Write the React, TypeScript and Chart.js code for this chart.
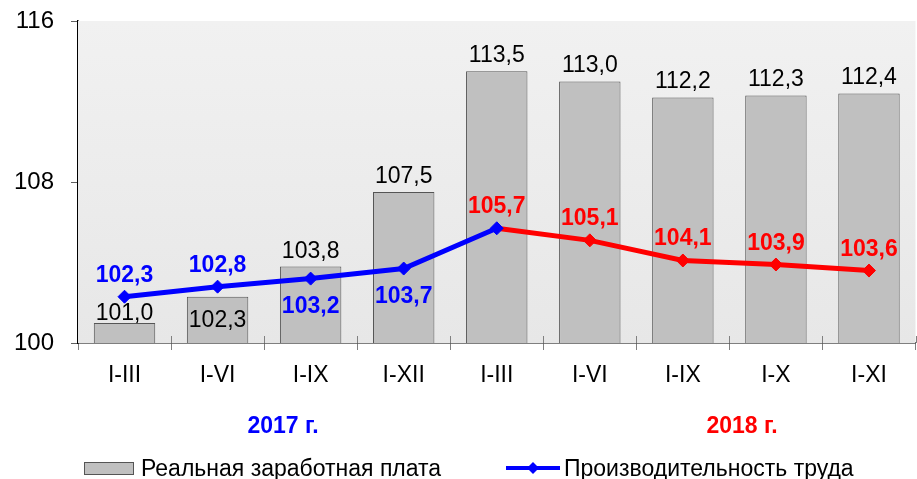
import React, { useEffect, useRef } from 'react';
import { Chart, registerables } from 'chart.js';

Chart.register(...registerables);

const categories = ['I-III', 'I-VI', 'I-IX', 'I-XII', 'I-III', 'I-VI', 'I-IX', 'I-X', 'I-XI'];
const wageValues = [101.0, 102.3, 103.8, 107.5, 113.5, 113.0, 112.2, 112.3, 112.4];
const productivityValues = [102.3, 102.8, 103.2, 103.7, 105.7, 105.1, 104.1, 103.9, 103.6];
const yTicks = [100, 108, 116];
const yearLabels = ['2017 г.', '2018 г.'];
const seriesNames = ['Реальная заработная плата', 'Производительность труда'];

// style / placement helpers (not data)
const barLabelDy = [-3, 30, -9, -9, -9, -9, -9, -9, -9];
const lineLabelBelow = [false, false, true, true, false, false, false, false, false];
const FIRST_2018 = 4;

const BLUE = '#0000ff';
const RED = '#ff0000';
const FONT = "'Liberation Sans', Arial, sans-serif";

const fmt = (v: number) => v.toFixed(1).replace('.', ',');

const drawPlugin = {
  id: 'customDraw',
  beforeDatasetsDraw(chart: any) {
    const { ctx, chartArea } = chart;
    const g = ctx.createLinearGradient(0, chartArea.top, 0, chartArea.bottom);
    g.addColorStop(0, '#f1f1f1');
    g.addColorStop(1, '#e7e7e7');
    ctx.save();
    ctx.fillStyle = g;
    ctx.fillRect(chartArea.left, chartArea.top, chartArea.right - chartArea.left, chartArea.bottom - chartArea.top);
    ctx.restore();
  },
  afterDraw(chart: any) {
    const { ctx, chartArea } = chart;
    ctx.save();
    // inner half of x ticks
    ctx.strokeStyle = '#808080';
    ctx.lineWidth = 1;
    const n = categories.length;
    const w = (chartArea.right - chartArea.left) / n;
    for (let i = 1; i <= n; i++) {
      const x = Math.round(chartArea.left + i * w) + 0.5;
      ctx.beginPath();
      ctx.moveTo(x, chartArea.bottom - 7);
      ctx.lineTo(x, chartArea.bottom);
      ctx.stroke();
    }
    // bar labels
    const barMeta = chart.getDatasetMeta(0);
    ctx.font = `23px ${FONT}`;
    ctx.fillStyle = '#000';
    ctx.textAlign = 'center';
    ctx.textBaseline = 'alphabetic';
    barMeta.data.forEach((el: any, i: number) => {
      ctx.fillText(fmt(wageValues[i]), el.x, el.y + barLabelDy[i]);
    });
    // line labels
    const lineMeta = chart.getDatasetMeta(1);
    ctx.font = `bold 23px ${FONT}`;
    lineMeta.data.forEach((el: any, i: number) => {
      ctx.fillStyle = i < FIRST_2018 ? BLUE : RED;
      const y = lineLabelBelow[i] ? el.y + 34 : el.y - 15;
      ctx.fillText(fmt(productivityValues[i]), el.x, y);
    });
    // year labels
    ctx.fillStyle = BLUE;
    ctx.fillText(yearLabels[0], 283, 433);
    ctx.fillStyle = RED;
    ctx.fillText(yearLabels[1], 742, 433);
    // legend
    ctx.fillStyle = '#c0c0c0';
    ctx.fillRect(84, 462, 49, 12);
    ctx.strokeStyle = '#555';
    ctx.lineWidth = 1;
    ctx.strokeRect(84.5, 462.5, 49, 12);
    ctx.font = `23px ${FONT}`;
    ctx.fillStyle = '#000';
    ctx.textAlign = 'left';
    ctx.fillText(seriesNames[0], 141, 476);
    ctx.strokeStyle = BLUE;
    ctx.lineWidth = 4;
    ctx.beginPath();
    ctx.moveTo(506, 468);
    ctx.lineTo(560, 468);
    ctx.stroke();
    ctx.fillStyle = BLUE;
    ctx.beginPath();
    ctx.moveTo(533, 462);
    ctx.lineTo(539, 468);
    ctx.lineTo(533, 474);
    ctx.lineTo(527, 468);
    ctx.closePath();
    ctx.fill();
    ctx.fillStyle = '#000';
    ctx.fillText(seriesNames[1], 564, 476);
    ctx.restore();
  },
};

export default function App() {
  const ref = useRef<HTMLCanvasElement>(null);
  useEffect(() => {
    if (!ref.current) return;
    const pointColors = productivityValues.map((_, i) => (i <= FIRST_2018 ? BLUE : RED));
    const chart = new Chart(ref.current, {
      type: 'bar',
      data: {
        labels: categories,
        datasets: [
          {
            type: 'bar',
            label: seriesNames[0],
            data: wageValues,
            backgroundColor: '#c0c0c0',
            borderColor: '#555555',
            borderWidth: 1,
            barPercentage: 0.66,
            categoryPercentage: 1,
            order: 1,
          },
          {
            type: 'line',
            label: seriesNames[1],
            data: productivityValues,
            borderColor: BLUE,
            borderWidth: 5,
            pointStyle: 'rectRot',
            pointRadius: 6.5,
            pointBorderWidth: 1,
            pointBackgroundColor: pointColors,
            pointBorderColor: pointColors,
            segment: {
              borderColor: (c: any) => (c.p0DataIndex < FIRST_2018 ? BLUE : RED),
            },
            tension: 0,
            order: 0,
          } as any,
        ],
      },
      options: {
        animation: false,
        responsive: false,
        devicePixelRatio: 1,
        layout: { padding: { top: 21, left: 0, right: 0, bottom: 76 } },
        plugins: { legend: { display: false }, tooltip: { enabled: false } },
        scales: {
          x: {
            offset: true,
            grid: { offset: true, drawOnChartArea: false, drawTicks: true, tickLength: 7, color: '#808080' },
            border: { display: true, color: '#000', width: 1.5 },
            ticks: { font: { size: 23, family: FONT }, color: '#000', padding: 12, maxRotation: 0, autoSkip: false },
            afterFit: (s: any) => { s.height = 60; s.paddingLeft = 0; s.paddingRight = 0; },
          },
          y: {
            min: 100,
            max: 116,
            afterBuildTicks: (s: any) => { s.ticks = yTicks.map((v) => ({ value: v })); },
            grid: { drawOnChartArea: false, tickLength: 7, color: '#606060' },
            border: { display: true, color: '#000', width: 1.5 },
            ticks: { font: { size: 24, family: FONT }, color: '#000', padding: 17 },
            afterFit: (s: any) => { s.width = 78; s.paddingTop = 0; s.paddingBottom = 0; },
          },
        },
      },
      plugins: [drawPlugin],
    });
    return () => chart.destroy();
  }, []);
  return (
    <div style={{ position: 'fixed', left: 0, top: 0, width: 917, height: 479, overflow: 'hidden', background: '#fff' }}>
      <canvas ref={ref} width={923} height={479} style={{ display: 'block' }} />
    </div>
  );
}
